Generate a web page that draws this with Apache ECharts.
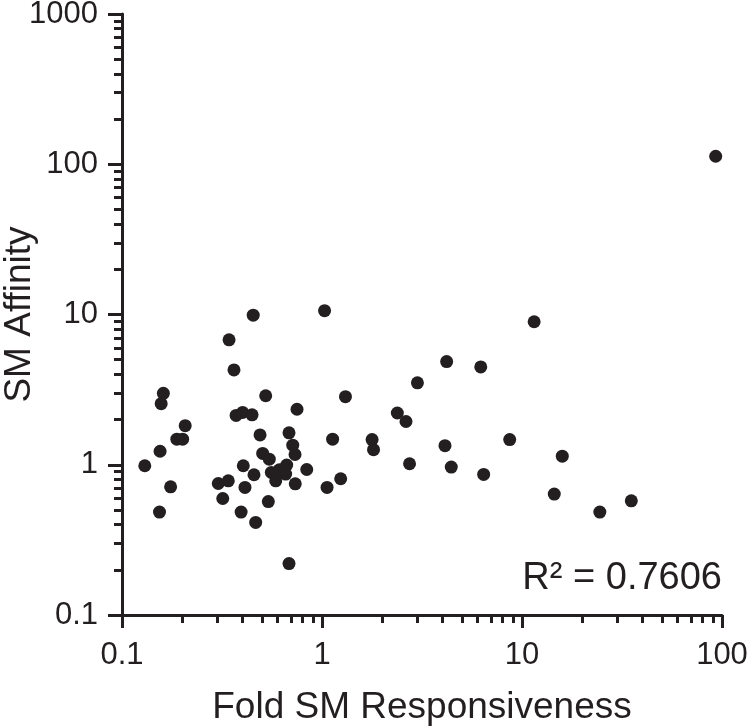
<!DOCTYPE html>
<html>
<head>
<meta charset="utf-8">
<script src="https://cdn.jsdelivr.net/npm/echarts@6/dist/echarts.min.js"></script>
<style>html,body{margin:0;padding:0;background:#fff;}#c{width:750px;height:728px;}</style>
</head>
<body>
<div id="c"></div>
<script>
// Fold SM Responsiveness (x) and SM Affinity (y)
const foldResp = [93.0, 1.03, 0.453, 11.5, 0.343, 4.20, 0.363, 6.22, 3.00, 0.161,
  0.157, 0.523, 1.31, 0.75, 0.372, 0.401, 0.447, 2.38, 2.63, 0.207,
  0.188, 0.201, 0.490, 0.684, 1.13, 1.78, 1.81, 4.12, 8.68, 0.155,
  0.714, 0.733, 0.505, 0.545, 15.9, 0.130, 0.404, 0.457, 0.558, 0.612,
  0.666, 0.658, 0.587, 0.839, 2.74, 4.43, 6.43, 0.303, 0.340, 0.412,
  0.735, 1.06, 1.24, 0.175, 0.319, 0.539, 14.5, 35.2, 0.154, 0.394,
  0.466, 24.5, 0.684];
const smAffinity = [113, 10.6, 9.9, 8.95, 6.78, 4.86, 4.28, 4.48, 3.51, 2.99,
  2.55, 2.88, 2.84, 2.34, 2.13, 2.23, 2.15, 2.21, 1.94, 1.82,
  1.48, 1.48, 1.58, 1.63, 1.48, 1.47, 1.26, 1.34, 1.47, 1.23,
  1.35, 1.17, 1.19, 1.09, 1.14, 0.985, 0.985, 0.858, 0.889, 0.926,
  0.995, 0.867, 0.782, 0.930, 1.015, 0.965, 0.862, 0.750, 0.782, 0.706,
  0.747, 0.706, 0.807, 0.713, 0.596, 0.569, 0.638, 0.575, 0.484, 0.484,
  0.413, 0.484, 0.220];
const xTickLabels = ['0.1', '1', '10', '100'];
const yTickLabels = ['0.1', '1', '10', '100', '1000'];
const rSquaredText = 'R\u00B2 = 0.7606';

const INK = '#231f20';
const FONT = '"Liberation Sans", Arial, Helvetica, sans-serif';

function minorLogs(fromExp, toExp) {
  const out = [];
  for (let e = fromExp; e < toExp; e++) {
    for (let k = 2; k <= 9; k++) out.push(Math.log10(k) + e);
  }
  return out;
}

const points = foldResp.map((x, i) => [x, smAffinity[i]]);

const chart = echarts.init(document.getElementById('c'), null, {renderer: 'canvas'});
chart.setOption({
  backgroundColor: '#fff',
  animation: false,
  title: {
    text: rSquaredText,
    right: 28,
    top: 560,
    padding: 0,
    textStyle: {fontFamily: FONT, fontSize: 38, fontWeight: 'normal', color: INK}
  },
  grid: {left: 122, right: 28, top: 14, bottom: 113, containLabel: false, outerBoundsMode: 'none'},
  xAxis: [{
    type: 'log', logBase: 10, min: 0.1, max: 100, splitNumber: 3,
    name: 'Fold SM Responsiveness', nameLocation: 'middle', nameGap: 74,
    nameTextStyle: {fontFamily: FONT, fontSize: 37, color: INK},
    axisLine: {show: true, onZero: false, lineStyle: {color: INK, width: 3}},
    axisTick: {show: true, length: 13, lineStyle: {color: INK, width: 3}},
    axisLabel: {fontFamily: FONT, fontSize: 31, color: INK, margin: 25,
      formatter: (v) => { const i = Math.round(Math.log10(v)) + 1; return xTickLabels[i] ?? String(v); }},
    splitLine: {show: false}
  }, {
    type: 'value', min: -1, max: 2, position: 'bottom', offset: 0,
    axisLine: {show: false, onZero: false},
    axisTick: {show: true, length: 8, customValues: minorLogs(-1, 2), lineStyle: {color: INK, width: 3}},
    axisLabel: {show: false},
    splitLine: {show: false}
  }],
  yAxis: [{
    type: 'log', logBase: 10, min: 0.1, max: 1000, splitNumber: 4,
    name: 'SM Affinity', nameLocation: 'middle', nameGap: 84, nameRotate: 90,
    nameMoveOverlap: false,
    nameTextStyle: {fontFamily: FONT, fontSize: 37, color: INK},
    axisLine: {show: true, onZero: false, lineStyle: {color: INK, width: 3}},
    axisTick: {show: true, length: 14, lineStyle: {color: INK, width: 3}},
    axisLabel: {fontFamily: FONT, fontSize: 31, color: INK, margin: 24,
      formatter: (v) => { const i = Math.round(Math.log10(v)) + 1; return yTickLabels[i] ?? String(v); }},
    splitLine: {show: false}
  }, {
    type: 'value', min: -1, max: 3, position: 'left', offset: 0,
    axisLine: {show: false, onZero: false},
    axisTick: {show: true, length: 8, customValues: minorLogs(-1, 3), lineStyle: {color: INK, width: 3}},
    axisLabel: {show: false},
    splitLine: {show: false}
  }],
  series: [{
    type: 'scatter',
    xAxisIndex: 0, yAxisIndex: 0,
    data: points,
    symbol: 'circle',
    symbolSize: 13,
    itemStyle: {color: INK, opacity: 1},
    clip: false
  }]
});
</script>
</body>
</html>
